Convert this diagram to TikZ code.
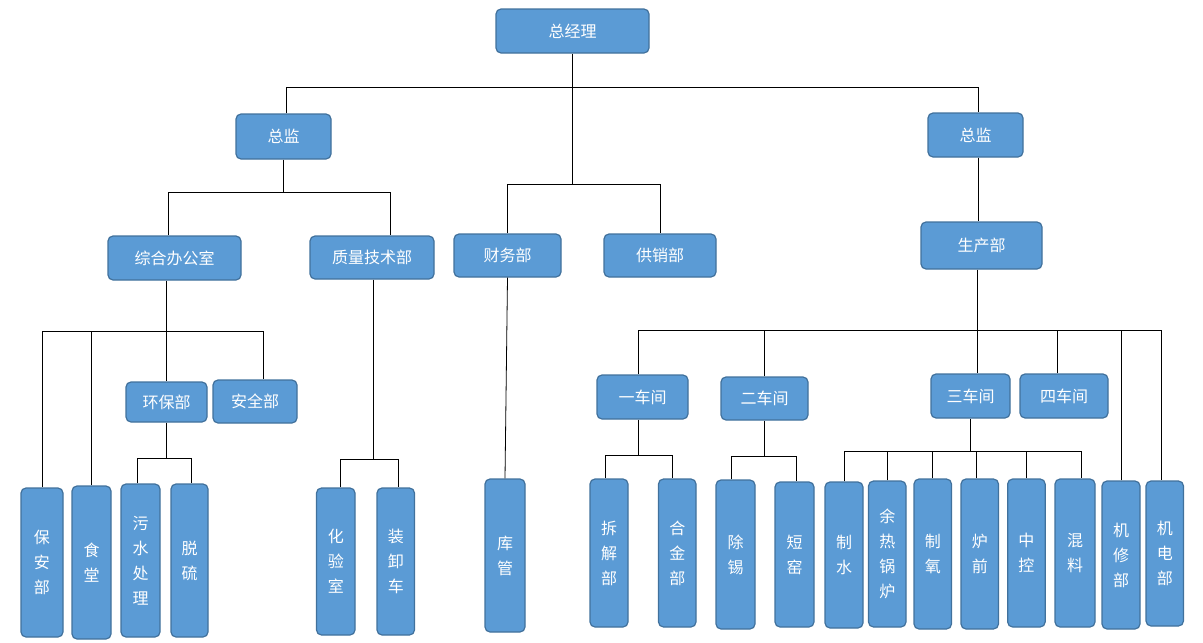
\documentclass[tikz,border=0pt]{standalone}
\usepackage{fontspec}
\newfontfamily\cjk{Noto Sans CJK SC}
\usepackage{tikz}
\definecolor{boxblue}{HTML}{5B9BD5}
\definecolor{boxline}{HTML}{41719C}

\begin{document}
\begin{tikzpicture}[x=1pt, y=-1pt, line width=0.8pt, dept/.style={draw=boxline, fill=boxblue, line width=1.2pt, rounded corners=5pt, text=white, inner sep=0pt, align=center, font=\cjk\fontsize{16}{25}\selectfont}]
\useasboundingbox (0,0) rectangle (1203,643);
\node[dept, minimum width=153pt, minimum height=44pt] (gm) at (572.5,31) {总经理};
\node[dept, minimum width=95pt, minimum height=45pt] (dirL) at (283.5,136.5) {总监};
\node[dept, minimum width=95pt, minimum height=44pt] (dirR) at (975.5,135) {总监};
\node[dept, minimum width=133pt, minimum height=44pt] (office) at (174.5,258) {综合办公室};
\node[dept, minimum width=124pt, minimum height=43pt] (quality) at (372,257.5) {质量技术部};
\node[dept, minimum width=107pt, minimum height=43pt] (finance) at (507.5,255.5) {财务部};
\node[dept, minimum width=112pt, minimum height=43pt] (supply) at (660,255.5) {供销部};
\node[dept, minimum width=121pt, minimum height=47pt] (production) at (981.5,245.5) {生产部};
\node[dept, minimum width=81pt, minimum height=40pt] (envdep) at (166.5,402) {环保部};
\node[dept, minimum width=84pt, minimum height=43pt] (safety) at (255,401.5) {安全部};
\node[dept, minimum width=91pt, minimum height=44pt] (ws1) at (642.5,397) {一车间};
\node[dept, minimum width=87pt, minimum height=43pt] (ws2) at (764.5,398.5) {二车间};
\node[dept, minimum width=79pt, minimum height=44pt] (ws3) at (970.5,396) {三车间};
\node[dept, minimum width=88pt, minimum height=44pt] (ws4) at (1064,396) {四车间};
\node[dept, minimum width=42pt, minimum height=149pt] (guard) at (42,562.5) {保\\安\\部};
\node[dept, minimum width=39pt, minimum height=153pt] (canteen) at (91.5,562.5) {食\\堂};
\node[dept, minimum width=39pt, minimum height=153pt] (sewage) at (140.5,560.5) {污\\水\\处\\理};
\node[dept, minimum width=37pt, minimum height=153pt] (desulf) at (189.5,560.5) {脱\\硫};
\node[dept, minimum width=38.5pt, minimum height=147pt] (lab) at (335.75,561.5) {化\\验\\室};
\node[dept, minimum width=37.5pt, minimum height=147pt] (loading) at (395.75,561.5) {装\\卸\\车};
\node[dept, minimum width=40pt, minimum height=153pt] (store) at (505,555.5) {库\\管};
\node[dept, minimum width=38pt, minimum height=148pt] (dismantle) at (609,553) {拆\\解\\部};
\node[dept, minimum width=37.5pt, minimum height=148pt] (alloy) at (677.25,553) {合\\金\\部};
\node[dept, minimum width=39pt, minimum height=149pt] (detin) at (735.5,554.5) {除\\锡};
\node[dept, minimum width=39pt, minimum height=145pt] (kiln) at (794.5,554.5) {短\\窑};
\node[dept, minimum width=38pt, minimum height=146pt] (water) at (844,555) {制\\水};
\node[dept, minimum width=37.5pt, minimum height=146pt] (boiler) at (887.25,554) {余\\热\\锅\\炉};
\node[dept, minimum width=37.5pt, minimum height=150pt] (oxygen) at (932.75,554) {制\\氧};
\node[dept, minimum width=37.5pt, minimum height=150pt] (furnace) at (979.75,554) {炉\\前};
\node[dept, minimum width=37.5pt, minimum height=148pt] (control) at (1026.4,553) {中\\控};
\node[dept, minimum width=40pt, minimum height=148pt] (mixing) at (1075,553) {混\\料};
\node[dept, minimum width=38pt, minimum height=148pt] (repair) at (1121,555) {机\\修\\部};
\node[dept, minimum width=37.5pt, minimum height=145pt] (electric) at (1164.75,553.5) {机\\电\\部};
\coordinate (topbar) at (0,87);
\coordinate (midbar) at (0,184.5);
\coordinate (leftbar) at (0,192);
\coordinate (officebar) at (0,331);
\coordinate (envbar) at (0,458);
\coordinate (labbar) at (0,459);
\coordinate (prodbar) at (0,330);
\coordinate (ws1bar) at (0,455);
\coordinate (ws2bar) at (0,456);
\coordinate (ws3bar) at (0,451);
\draw (gm.south) -- (gm.south |- midbar);
\draw ([xshift=3pt]dirL.north) -- ([xshift=3pt]dirL.north |- topbar) -- ([xshift=3pt]dirR.north |- topbar) -- ([xshift=3pt]dirR.north);
\draw (finance.north) -- (finance.north |- midbar) -- (supply.north |- midbar) -- (supply.north);
\draw (dirL.south) -- (dirL.south |- leftbar);
\draw ([xshift=-6pt]office.north) -- ([xshift=-6pt]office.north |- leftbar) -- ([xshift=18pt]quality.north |- leftbar) -- ([xshift=18pt]quality.north);
\draw (office.south -| envdep.north) -- (envdep.north);
\draw (guard.north) -- (guard.north |- officebar) -- ([xshift=8pt]safety.north |- officebar) -- ([xshift=8pt]safety.north);
\draw (canteen.north) -- (canteen.north |- officebar);
\draw (envdep.south) -- (envdep.south |- envbar);
\draw ([xshift=-3pt]sewage.north) -- ([xshift=-3pt]sewage.north |- envbar) -- ([xshift=2pt]desulf.north |- envbar) -- ([xshift=2pt]desulf.north);
\draw ([xshift=1pt]quality.south) -- ([xshift=1pt]quality.south |- labbar);
\draw ([xshift=5pt]lab.north) -- ([xshift=5pt]lab.north |- labbar) -- ([xshift=3pt]loading.north |- labbar) -- ([xshift=3pt]loading.north);
\draw (finance.south) -- (store.north);
\draw ([xshift=-3pt]production.north |- dirR.south) -- ([xshift=-3pt]production.north);
\draw ([xshift=-4pt]production.south) -- ([xshift=-4pt]production.south |- ws3.north);
\draw ([xshift=-4pt]ws1.north) -- ([xshift=-4pt]ws1.north |- prodbar) -- ([xshift=-3pt]electric.north |- prodbar) -- ([xshift=-3pt]electric.north);
\draw (ws2.north) -- (ws2.north |- prodbar);
\draw ([xshift=-7pt]ws4.north) -- ([xshift=-7pt]ws4.north |- prodbar);
\draw (repair.north) -- (repair.north |- prodbar);
\draw ([xshift=-4pt]ws1.south) -- ([xshift=-4pt]ws1.south |- ws1bar);
\draw ([xshift=-4pt]dismantle.north) -- ([xshift=-4pt]dismantle.north |- ws1bar) -- ([xshift=-5pt]alloy.north |- ws1bar) -- ([xshift=-5pt]alloy.north);
\draw (ws2.south) -- (ws2.south |- ws2bar);
\draw ([xshift=-4pt]detin.north) -- ([xshift=-4pt]detin.north |- ws2bar) -- ([xshift=2pt]kiln.north |- ws2bar) -- ([xshift=2pt]kiln.north);
\draw[line width=1.4pt] (ws3.south) -- (ws3.south |- ws3bar);
\draw (water.north) -- (water.north |- ws3bar) -- ([xshift=6pt]mixing.north |- ws3bar) -- ([xshift=6pt]mixing.north);
\draw (boiler.north) -- (boiler.north |- ws3bar);
\draw (oxygen.north) -- (oxygen.north |- ws3bar);
\draw ([xshift=-3pt]furnace.north) -- ([xshift=-3pt]furnace.north |- ws3bar);
\draw (control.north) -- (control.north |- ws3bar);
\end{tikzpicture}
\end{document}
